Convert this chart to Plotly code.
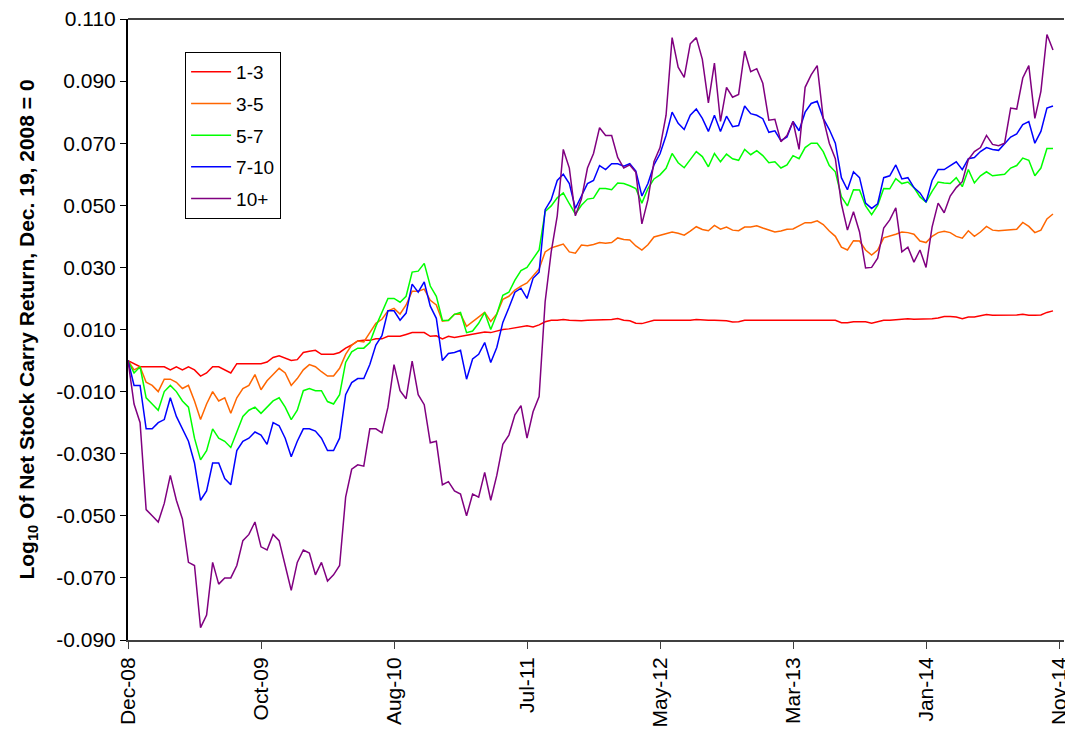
import pandas as pd
import plotly.graph_objects as go

# ---- data (bi-weekly readings, starting Dec 19, 2008) ----
start_date = "2008-12-19"
step_days = 14

d_1_3 = [0.000, -0.001, -0.002, -0.002, -0.002, -0.002, -0.002, -0.003, -0.002, -0.003,
         -0.002, -0.003, -0.005, -0.004, -0.002, -0.002, -0.003, -0.004, -0.001, -0.001,
         -0.001, -0.001, -0.001, -0.0005, 0.001, 0.0015, 0.0007, 0.000, 0.0003, 0.0026,
         0.003, 0.0033, 0.002, 0.002, 0.002, 0.0026, 0.004, 0.005, 0.0063, 0.0065,
         0.0065, 0.007, 0.007, 0.0078, 0.0078, 0.0078, 0.0084, 0.009, 0.009, 0.009,
         0.0078, 0.008, 0.007, 0.0078, 0.0074, 0.0078, 0.008, 0.0084, 0.0088, 0.0092,
         0.009, 0.0095, 0.010, 0.0102, 0.0105, 0.011, 0.0112, 0.0108, 0.0115, 0.0125,
         0.013, 0.013, 0.0132, 0.013, 0.0128, 0.0128, 0.013, 0.013, 0.013, 0.013,
         0.0132, 0.0135, 0.013, 0.0128, 0.012, 0.0119, 0.0125, 0.013, 0.013, 0.013,
         0.013, 0.013, 0.0128, 0.013, 0.0132, 0.013, 0.013, 0.013, 0.013, 0.0128,
         0.0124, 0.0125, 0.013, 0.013, 0.013, 0.013, 0.013, 0.013, 0.013, 0.013,
         0.0132, 0.013, 0.013, 0.013, 0.0132, 0.0132, 0.0132, 0.013, 0.0122, 0.0122,
         0.0125, 0.0125, 0.0125, 0.012, 0.0125, 0.013, 0.013, 0.0132, 0.0133, 0.0135,
         0.0133, 0.0133, 0.0133, 0.0135, 0.0137, 0.0142, 0.0142, 0.014, 0.0135, 0.014,
         0.014, 0.0145, 0.0148, 0.0146, 0.0146, 0.0145, 0.0146, 0.0147, 0.0149, 0.0146,
         0.0146, 0.0147, 0.0155, 0.016]

d_3_5 = [0.000, -0.003, -0.002, -0.007, -0.008, -0.010, -0.006, -0.006, -0.007, -0.009,
         -0.008, -0.013, -0.019, -0.014, -0.010, -0.013, -0.012, -0.017, -0.012, -0.009,
         -0.008, -0.0045, -0.0094, -0.0065, -0.0045, -0.0025, -0.004, -0.008, -0.0058, -0.003,
         -0.0013, -0.002, -0.0036, -0.005, -0.005, -0.0025, 0.002, 0.005, 0.0063, 0.006,
         0.009, 0.012, 0.0133, 0.016, 0.0168, 0.015, 0.0179, 0.0223, 0.0223, 0.023,
         0.0194, 0.0179, 0.0127, 0.013, 0.0149, 0.015, 0.011, 0.0125, 0.014, 0.0155,
         0.0126, 0.015, 0.0197, 0.0207, 0.0227, 0.024, 0.025, 0.0272, 0.0295, 0.035,
         0.0363, 0.0369, 0.0375, 0.035, 0.0346, 0.0372, 0.037, 0.0374, 0.038, 0.0378,
         0.038, 0.0395, 0.039, 0.0388, 0.0369, 0.0356, 0.0373, 0.0398, 0.0404, 0.0408,
         0.0414, 0.041, 0.0404, 0.0417, 0.0431, 0.0422, 0.0418, 0.0435, 0.0423, 0.043,
         0.042, 0.0418, 0.043, 0.043, 0.0434, 0.0427, 0.042, 0.0414, 0.0417, 0.0423,
         0.0424, 0.0434, 0.0444, 0.0444, 0.045, 0.0438, 0.0417, 0.040, 0.0365, 0.0356,
         0.0386, 0.0385, 0.0356, 0.034, 0.0356, 0.0395, 0.040, 0.0407, 0.0414, 0.0412,
         0.0407, 0.0385, 0.038, 0.040, 0.0412, 0.0416, 0.0412, 0.040, 0.0394, 0.0418,
         0.040, 0.0414, 0.0432, 0.042, 0.0418, 0.042, 0.042, 0.0423, 0.0445, 0.0432,
         0.0412, 0.042, 0.0456, 0.0472]

d_5_7 = [0.000, -0.004, -0.002, -0.012, -0.014, -0.016, -0.010, -0.008, -0.010, -0.013,
         -0.015, -0.025, -0.032, -0.029, -0.022, -0.025, -0.026, -0.028, -0.023, -0.018,
         -0.016, -0.015, -0.017, -0.015, -0.013, -0.012, -0.015, -0.019, -0.016, -0.0097,
         -0.009, -0.0097, -0.0097, -0.0132, -0.014, -0.011, -0.0006, 0.0028, 0.004, 0.004,
         0.0058, 0.011, 0.0155, 0.020, 0.020, 0.0188, 0.0207, 0.0285, 0.0288, 0.0313,
         0.024, 0.0207, 0.013, 0.0129, 0.0149, 0.0155, 0.009, 0.0095, 0.012, 0.0155,
         0.010, 0.0149, 0.021, 0.022, 0.0259, 0.029, 0.030, 0.033, 0.0356, 0.048,
         0.0498, 0.0524, 0.054, 0.0505, 0.0472, 0.050, 0.052, 0.0523, 0.0554, 0.0554,
         0.055, 0.0572, 0.057, 0.0563, 0.0554, 0.0507, 0.0554, 0.0585, 0.0598, 0.0619,
         0.0667, 0.0637, 0.0621, 0.0647, 0.0673, 0.0657, 0.0624, 0.0667, 0.064, 0.0665,
         0.065, 0.0645, 0.068, 0.0663, 0.0676, 0.066, 0.0637, 0.064, 0.062, 0.063,
         0.066, 0.065, 0.0686, 0.070, 0.070, 0.0673, 0.0628, 0.0608, 0.0528, 0.0498,
         0.055, 0.0549, 0.0498, 0.047, 0.050, 0.0554, 0.0553, 0.0586, 0.057, 0.0575,
         0.0557, 0.0527, 0.051, 0.0545, 0.0575, 0.0572, 0.057, 0.0589, 0.056, 0.0615,
         0.0572, 0.0595, 0.0608, 0.0595, 0.0598, 0.060, 0.062, 0.0628, 0.0652, 0.0645,
         0.0595, 0.062, 0.0683, 0.0683]

d_7_10 = [0.000, -0.008, -0.008, -0.022, -0.022, -0.020, -0.019, -0.012, -0.018, -0.022,
          -0.026, -0.033, -0.045, -0.042, -0.033, -0.033, -0.038, -0.040, -0.029, -0.026,
          -0.025, -0.023, -0.024, -0.027, -0.020, -0.021, -0.025, -0.031, -0.026, -0.022,
          -0.022, -0.0227, -0.025, -0.029, -0.029, -0.025, -0.011, -0.0071, -0.0058, -0.0058,
          -0.0013, 0.005, 0.008, 0.016, 0.016, 0.013, 0.0153, 0.0246, 0.022, 0.0253,
          0.0175, 0.0136, 0.000, 0.0023, 0.0026, 0.0033, -0.006, 0.0005, 0.002, 0.0058,
          -0.0006, 0.0042, 0.0123, 0.017, 0.022, 0.0233, 0.020, 0.0265, 0.0285, 0.0486,
          0.0518, 0.058, 0.060, 0.057, 0.049, 0.053, 0.057, 0.058, 0.0628, 0.0615,
          0.0634, 0.0634, 0.0626, 0.0634, 0.061, 0.053, 0.057, 0.063, 0.0666, 0.0725,
          0.080, 0.0764, 0.0744, 0.079, 0.081, 0.078, 0.0738, 0.079, 0.0738, 0.0787,
          0.0753, 0.0757, 0.082, 0.0795, 0.079, 0.0779, 0.0735, 0.074, 0.0708, 0.072,
          0.077, 0.074, 0.080, 0.0828, 0.0835, 0.078, 0.0744, 0.070, 0.0589, 0.055,
          0.0608, 0.0589, 0.0507, 0.049, 0.0505, 0.0589, 0.0595, 0.063, 0.0585, 0.0589,
          0.0557, 0.054, 0.051, 0.058, 0.0615, 0.0615, 0.0628, 0.064, 0.0615, 0.065,
          0.0654, 0.0673, 0.0686, 0.068, 0.0677, 0.070, 0.072, 0.073, 0.076, 0.077,
          0.070, 0.0738, 0.0813, 0.082]

d_10p = [0.000, -0.014, -0.020, -0.048, -0.050, -0.052, -0.046, -0.037, -0.045, -0.051,
         -0.065, -0.066, -0.086, -0.082, -0.065, -0.072, -0.070, -0.070, -0.066, -0.058,
         -0.056, -0.052, -0.060, -0.061, -0.056, -0.058, -0.066, -0.074, -0.065, -0.061,
         -0.062, -0.069, -0.065, -0.071, -0.069, -0.066, -0.044, -0.035, -0.0336, -0.034,
         -0.022, -0.022, -0.0233, -0.015, -0.0013, -0.0097, -0.0123, -0.0002, -0.011, -0.0142,
         -0.0265, -0.026, -0.040, -0.039, -0.042, -0.043, -0.050, -0.043, -0.044, -0.036,
         -0.045, -0.037, -0.027, -0.024, -0.0175, -0.0145, -0.025, -0.0165, -0.0116, 0.019,
         0.035, 0.0466, 0.068, 0.062, 0.0466, 0.052, 0.062, 0.0667, 0.075, 0.0725,
         0.0725, 0.0654, 0.062, 0.063, 0.0606, 0.044, 0.0518, 0.064, 0.0686, 0.079,
         0.104, 0.0945, 0.0912, 0.102, 0.104, 0.097, 0.083, 0.0958, 0.077, 0.088,
         0.0848, 0.0857, 0.0997, 0.093, 0.094, 0.0893, 0.0774, 0.0777, 0.0705, 0.0725,
         0.077, 0.068, 0.088, 0.092, 0.095, 0.078, 0.070, 0.065, 0.0505, 0.042,
         0.0479, 0.0414, 0.0298, 0.030, 0.033, 0.0427, 0.0453, 0.0492, 0.035, 0.0365,
         0.0317, 0.0356, 0.030, 0.043, 0.0507, 0.0476, 0.053, 0.0557, 0.0576, 0.0647,
         0.0673, 0.0686, 0.0725, 0.0696, 0.0692, 0.070, 0.0813, 0.081, 0.091, 0.095,
         0.078, 0.0867, 0.105, 0.100]

series_names = ["1-3", "3-5", "5-7", "7-10", "10+"]
series_values = [d_1_3, d_3_5, d_5_7, d_7_10, d_10p]
series_colors = ["#FF0000", "#FF6600", "#00FF00", "#0000FF", "#800080"]

tick_dates = ["2008-12-19", "2009-10-23", "2010-08-27", "2011-07-01",
              "2012-05-04", "2013-03-08", "2014-01-10", "2014-11-14"]
tick_labels = ["Dec-08", "Oct-09", "Aug-10", "Jul-11", "May-12", "Mar-13", "Jan-14", "Nov-14"]
y_ticks = [-0.090, -0.070, -0.050, -0.030, -0.010, 0.010, 0.030, 0.050, 0.070, 0.090, 0.110]
y_tick_labels = ["-0.090", "-0.070", "-0.050", "-0.030", "-0.010", "0.010",
                 "0.030", "0.050", "0.070", "0.090", "0.110"]

FONT = "Liberation Sans, Arial, sans-serif"

fig = go.Figure()
for i, (name, vals, col) in enumerate(zip(series_names, series_values, series_colors)):
    dates = pd.date_range(start=start_date, periods=len(vals), freq=f"{step_days}D")
    fig.add_trace(go.Scatter(
        x=dates, y=vals, mode="lines", name=name,
        line=dict(color=col, width=1.5),
        legendgroup=name,
    ))

fig.update_layout(
    width=1065, height=731,
    margin=dict(l=128, r=1, t=19, b=91, autoexpand=False),
    paper_bgcolor="white", plot_bgcolor="white",
    font=dict(family=FONT, color="black", size=21),
    showlegend=True,
    legend=dict(
        x=0.061, y=0.947, xanchor="left", yanchor="top",
        bgcolor="white", bordercolor="black", borderwidth=1,
        font=dict(family=FONT, size=19, color="black"),
        tracegroupgap=4, itemwidth=40,
    ),
    xaxis=dict(
        type="date", automargin=False,
        range=["2008-12-19", "2014-11-25 12:00"],
        tickmode="array", tickvals=tick_dates, ticktext=tick_labels,
        tickangle=-90, ticklabeloverflow="allow",
        ticks="outside", ticklen=7, tickwidth=1, tickcolor="#404040",
        showline=True, linecolor="#404040", linewidth=2,
        mirror=False, showgrid=False, zeroline=False,
        tickfont=dict(family=FONT, size=21, color="black"),
    ),
    yaxis=dict(
        automargin=False,
        range=[-0.090, 0.110],
        tickmode="array", tickvals=y_ticks, ticktext=y_tick_labels,
        ticks="outside", ticklen=6, tickwidth=1, tickcolor="black",
        showline=True, linecolor="black", linewidth=2,
        showgrid=False, zeroline=False,
        tickfont=dict(family=FONT, size=21, color="black"),
        title=dict(
            text="<b>Log<sub>10</sub> Of Net Stock Carry Return, Dec. 19, 2008 = 0</b>",
            font=dict(family=FONT, size=21, color="black"),
            standoff=16,
        ),
    ),
)

# top border of the plot area
fig.add_shape(type="line", xref="paper", yref="paper", x0=0, x1=1, y0=1, y1=1,
              line=dict(color="black", width=1.5))

fig.write_html("out.html")
